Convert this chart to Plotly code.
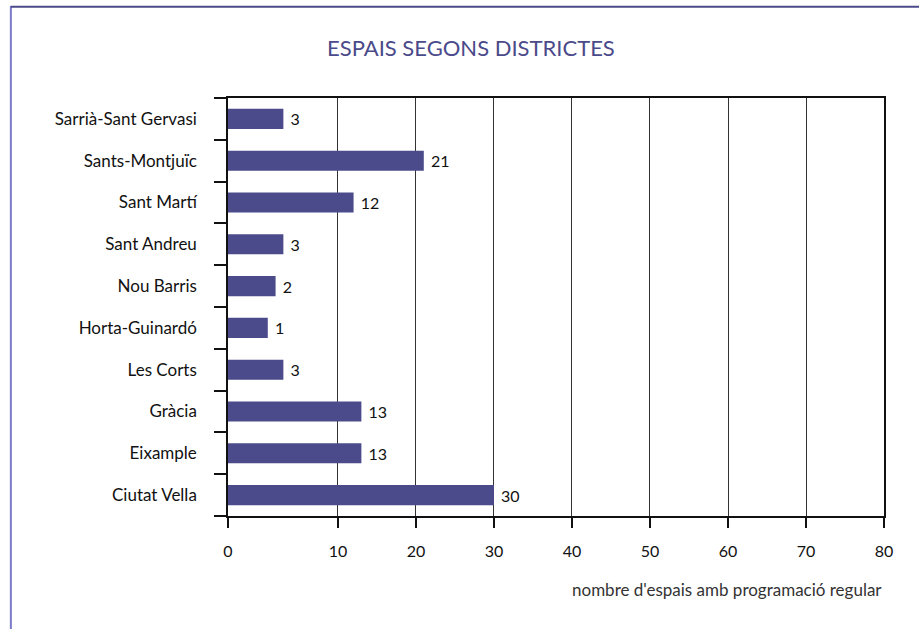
import plotly.graph_objects as go

districts = ["Ciutat Vella", "Eixample", "Gràcia", "Les Corts", "Horta-Guinardó",
             "Nou Barris", "Sant Andreu", "Sant Martí", "Sants-Montjuïc", "Sarrià-Sant Gervasi"]
espais = [30, 13, 13, 3, 1, 2, 3, 12, 21, 3]

axis_start = -4.1  # left edge of the value axis (labelled "0" in the original)
tick_vals = [axis_start, 10, 20, 30, 40, 50, 60, 70, 80]
tick_text = ["0", "10", "20", "30", "40", "50", "60", "70", "80"]

title = "ESPAIS SEGONS DISTRICTES"
x_title = "nombre d'espais amb programació regular"

FONT = "Lato"
BAR = "#4b4a8a"

fig = go.Figure(go.Bar(
    y=districts,
    x=[v - axis_start for v in espais],
    base=axis_start,
    orientation="h",
    marker=dict(color=BAR, line=dict(width=0)),
    text=["\u00a0" + str(v) for v in espais],
    textposition="outside",
    textfont=dict(family=FONT, size=16, color="#111"),
    cliponaxis=False,
    hoverinfo="skip",
))

fig.update_layout(
    width=919, height=629,
    margin=dict(l=228, r=35, t=98, b=113),
    paper_bgcolor="white", plot_bgcolor="white",
    showlegend=False,
    bargap=0.52,
    font=dict(family=FONT, color="#111"),
    annotations=[
        dict(text=title, xref="paper", yref="paper", x=0.371, y=1.0, yshift=51,
             xanchor="center", yanchor="middle", showarrow=False,
             font=dict(family=FONT, size=22, color="#4b4a8a")),
        dict(text=x_title, xref="paper", yref="paper", x=1.0, y=0, yshift=-73,
             xanchor="right", yanchor="middle", showarrow=False,
             font=dict(family=FONT, size=17, color="#333")),
    ],
    shapes=[
        dict(type="line", xref="paper", yref="paper", x0=-0.331, x1=-0.331, y0=1.22, y1=-0.28,
             line=dict(color="#7a7ac8", width=2)),
        dict(type="line", xref="paper", yref="paper", x0=-0.331, x1=1.06, y0=1.2185, y1=1.2185,
             line=dict(color="#4b4a8a", width=2)),
    ],
)

fig.update_xaxes(
    range=[axis_start, 80],
    tickvals=tick_vals, ticktext=tick_text,
    showgrid=True, gridcolor="#333", gridwidth=1,
    showline=True, linecolor="#111", linewidth=1.5, mirror=True,
    ticks="outside", ticklen=10, tickcolor="#111", tickwidth=1.5,
    tickfont=dict(family=FONT, size=16, color="#111"),
    ticklabelstandoff=10,
    zeroline=False,
)
fig.update_yaxes(
    categoryorder="array", categoryarray=districts,
    showgrid=False,
    showline=True, linecolor="#111", linewidth=1.5, mirror=True,
    ticks="outside", ticklen=12, tickcolor="#111", tickwidth=1.5,
    tickson="boundaries",
    tickfont=dict(family=FONT, size=17, color="#111"),
    ticklabelstandoff=26,
)

fig.write_html("out.html",
               config={"displayModeBar": False},
               post_script="document.body.style.margin='0';document.body.style.overflow='hidden';")
